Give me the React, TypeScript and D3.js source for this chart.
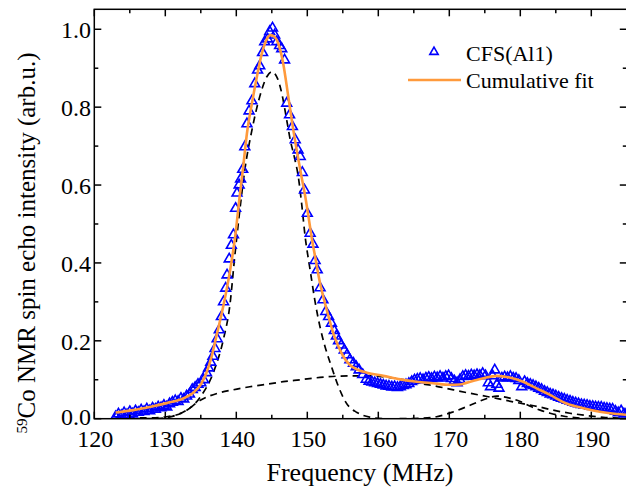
import React from "react";
import * as d3 from "d3";

// ---- measured data (CFS(Al1)) ----
const dataFreq = [
  123.0, 123.4, 123.8, 124.2, 124.6, 125.0, 125.4, 125.8, 126.2, 126.6, 127.0, 127.4, 127.8, 128.2, 128.6, 129.0, 129.4, 129.8,
  130.2, 130.6, 131.0, 131.4, 131.8, 132.2, 132.6, 133.0, 133.4, 133.8, 134.2, 134.6, 135.0, 135.4, 135.8, 136.1, 136.4, 136.7,
  137.0, 137.3, 137.6, 137.9, 138.2, 138.5, 138.7, 139.0, 139.3, 139.6, 139.9, 140.1, 140.4, 140.6, 140.9, 141.2, 141.5, 141.8,
  142.2, 142.6, 143.0, 143.3, 143.7, 144.0, 144.4, 144.7, 145.1, 145.4, 145.7, 146.1, 146.4, 146.8, 147.1, 147.5, 147.9, 148.3,
  148.7, 149.0, 149.3, 149.6, 150.0, 150.4, 150.8, 151.1, 151.4, 151.8, 152.2, 152.6, 153.0, 153.4, 153.8, 154.1, 154.4, 154.8,
  155.2, 155.6, 156.0, 156.5, 156.9, 157.3, 157.8, 158.3, 158.7, 159.1, 159.5, 159.9, 160.3, 160.7, 161.1, 161.5, 161.9, 162.3,
  162.7, 163.1, 163.5, 163.9, 164.3, 164.7, 165.1, 165.5, 165.9, 166.3, 166.7, 167.1, 167.5, 167.9, 168.3, 168.7, 169.1, 169.5,
  169.9, 170.3, 170.7, 171.1, 171.5, 171.9, 172.3, 172.7, 173.1, 173.5, 173.9, 174.3, 174.7, 175.1, 175.5, 175.8, 176.1, 176.4,
  176.7, 177.0, 177.4, 177.8, 178.2, 178.6, 179.0, 179.4, 179.8, 180.2, 180.6, 181.0, 181.4, 181.8, 182.2, 182.6, 183.0, 183.4,
  183.8, 184.2, 184.6, 185.0, 185.4, 185.8, 186.2, 186.6, 187.0, 187.4, 187.8, 188.2, 188.6, 189.0, 189.4, 189.8, 190.2, 190.6,
  191.0, 191.4, 191.8, 192.2, 192.6, 193.0, 193.4, 193.8, 194.2, 194.6, 195.0,
];
const dataIntensity = [
  0.005, 0.012, 0.008, 0.015, 0.010, 0.018, 0.012, 0.020, 0.016, 0.022, 0.018, 0.025, 0.020, 0.027, 0.024, 0.030, 0.028, 0.034,
  0.030, 0.038, 0.042, 0.046, 0.044, 0.052, 0.050, 0.058, 0.063, 0.075, 0.080, 0.088, 0.092, 0.100, 0.118, 0.130, 0.145, 0.160,
  0.180, 0.205, 0.228, 0.262, 0.300, 0.335, 0.369, 0.410, 0.445, 0.472, 0.540, 0.579, 0.600, 0.615, 0.640, 0.698, 0.757, 0.790,
  0.816, 0.860, 0.895, 0.906, 0.940, 0.968, 0.975, 0.994, 1.003, 0.985, 0.968, 0.958, 0.950, 0.921, 0.810, 0.780, 0.750, 0.716,
  0.690, 0.673, 0.632, 0.587, 0.527, 0.476, 0.448, 0.406, 0.382, 0.336, 0.305, 0.275, 0.262, 0.245, 0.226, 0.212, 0.200, 0.189,
  0.176, 0.164, 0.151, 0.142, 0.133, 0.125, 0.113, 0.101, 0.096, 0.094, 0.092, 0.090, 0.088, 0.086, 0.084, 0.083, 0.081, 0.082,
  0.080, 0.082, 0.085, 0.087, 0.090, 0.095, 0.099, 0.101, 0.103, 0.100, 0.104, 0.106, 0.103, 0.107, 0.105, 0.108, 0.104, 0.108,
  0.110, 0.103, 0.097, 0.092, 0.100, 0.108, 0.111, 0.109, 0.112, 0.110, 0.113, 0.111, 0.116, 0.110, 0.092, 0.082, 0.110, 0.125,
  0.088, 0.078, 0.104, 0.107, 0.105, 0.108, 0.104, 0.103, 0.098, 0.082, 0.095, 0.090, 0.088, 0.085, 0.082, 0.078, 0.075, 0.070,
  0.067, 0.063, 0.061, 0.058, 0.055, 0.052, 0.050, 0.047, 0.045, 0.042, 0.040, 0.038, 0.036, 0.035, 0.034, 0.032, 0.031, 0.030,
  0.029, 0.029, 0.027, 0.026, 0.025, 0.024, 0.019, 0.015, 0.020, 0.012, 0.015,
];

// ---- cumulative fit (orange) ----
const fitFreq = [
  123.0, 125.5, 127.8, 130.2, 132.5, 133.9, 135.0, 135.8, 136.5, 137.2, 138.2, 139.1, 139.8, 140.5, 140.9, 141.5, 142.2, 142.9,
  143.6, 144.3, 144.8, 145.2, 145.9, 146.6, 147.3, 148.0, 148.7, 149.2, 149.7, 150.1, 150.6, 151.1, 151.8, 152.3, 153.0, 153.8,
  154.4, 155.1, 156.0, 157.2, 158.4, 160.7, 163.1, 165.4, 167.7, 170.1, 171.5, 172.4, 174.8, 176.7, 178.5, 180.4, 182.3, 184.2,
  186.5, 188.9, 191.2, 193.6, 195.0,
];
const fitIntensity = [
  0.016, 0.022, 0.030, 0.040, 0.052, 0.066, 0.088, 0.118, 0.158, 0.212, 0.292, 0.378, 0.462, 0.575, 0.635, 0.733, 0.810, 0.878,
  0.938, 0.975, 0.985, 0.983, 0.964, 0.913, 0.830, 0.745, 0.670, 0.620, 0.572, 0.527, 0.467, 0.416, 0.348, 0.310, 0.262, 0.212,
  0.185, 0.159, 0.138, 0.125, 0.118, 0.110, 0.101, 0.095, 0.091, 0.087, 0.088, 0.092, 0.104, 0.110, 0.106, 0.095, 0.078, 0.061,
  0.039, 0.027, 0.018, 0.012, 0.010,
];

// ---- fit components (black dashed) ----
const peak1Freq = [
  123.0, 128.0, 130.2, 132.5, 134.9, 136.8, 138.2, 139.1, 139.8, 140.5, 141.2, 142.2, 143.3, 144.3, 145.0, 145.8, 146.4, 147.1,
  147.6, 148.2, 148.7, 149.2, 149.7, 150.4, 151.1, 151.8, 152.5, 153.4, 154.4, 155.5, 157.0, 158.8, 161.0,
];
const peak1Intensity = [
  0.002, 0.002, 0.005, 0.016, 0.055, 0.120, 0.205, 0.292, 0.420, 0.536, 0.639, 0.741, 0.827, 0.878, 0.891, 0.874, 0.836, 0.767,
  0.716, 0.670, 0.625, 0.553, 0.467, 0.382, 0.300, 0.235, 0.185, 0.134, 0.082, 0.040, 0.016, 0.004, 0.000,
];
const peak2Freq = [
  127.0, 129.0, 131.0, 133.0, 135.0, 137.3, 139.5, 141.9, 144.5, 146.6, 149.0, 151.8, 154.0, 156.0, 158.4, 160.5, 163.1, 165.9,
  167.7, 170.6, 173.0, 175.3, 178.0, 180.5, 182.5, 184.6, 187.0, 189.4, 192.0, 195.0,
];
const peak2Intensity = [
  0.000, 0.001, 0.006, 0.022, 0.048, 0.065, 0.074, 0.082, 0.089, 0.095, 0.100, 0.106, 0.109, 0.110, 0.110, 0.108, 0.102, 0.090,
  0.085, 0.074, 0.065, 0.057, 0.047, 0.038, 0.031, 0.022, 0.014, 0.008, 0.003, 0.001,
];
const peak3Freq = [
  163.0, 166.0, 168.2, 170.6, 173.0, 175.3, 176.7, 178.5, 180.0, 181.4, 182.8, 184.2, 186.0, 188.0, 190.0, 193.0, 195.0,
];
const peak3Intensity = [
  0.000, 0.001, 0.005, 0.018, 0.035, 0.052, 0.058, 0.053, 0.044, 0.032, 0.022, 0.014, 0.007, 0.002, 0.000, 0.000, 0.000,
];

const xTicks = [120, 130, 140, 150, 160, 170, 180, 190];
const yTicks = [0.0, 0.2, 0.4, 0.6, 0.8, 1.0];
const legendLabels = ["CFS(Al1)", "Cumulative fit"];

const W = 626;
const H = 487;
const M = { left: 94.3, top: 9.3, right: 626.8, bottom: 418.7 };
const FONT = "'Liberation Serif', 'Times New Roman', serif";
const ORANGE = "#FF9A3C";
const BLUE = "#0000FF";

export default function App() {
  const x = d3.scaleLinear().domain([120, 195]).range([M.left, M.right]);
  const y = d3.scaleLinear().domain([0, 1.0513]).range([M.bottom, M.top]);

  const line = (fx: number[], fy: number[]) =>
    d3
      .line<number>()
      .x((_, i) => x(fx[i]))
      .y((_, i) => y(fy[i]))
      .curve(d3.curveMonotoneX)(fy) || "";

  const tri = d3.symbol().type(d3.symbolTriangle).size(42)() || "";
  const triLegend = d3.symbol().type(d3.symbolTriangle).size(30)() || "";

  const xMinor = d3.range(120, 196, 5);
  const yMinor = d3.range(0, 1.05, 0.1);

  const majorLen = 7;
  const minorLen = 4;

  return (
    <svg
      width={W}
      height={H}
      style={{ position: "absolute", left: 0, top: 0, background: "#fff" }}
      fontFamily={FONT}
    >
      <defs>
        <clipPath id="plotClip">
          <rect x={M.left} y={M.top} width={M.right - M.left} height={M.bottom - M.top} />
        </clipPath>
      </defs>

      <g clipPath="url(#plotClip)">
        {[
          [peak1Freq, peak1Intensity],
          [peak2Freq, peak2Intensity],
          [peak3Freq, peak3Intensity],
        ].map(([fx, fy], i) => (
          <path
            key={i}
            d={line(fx, fy)}
            fill="none"
            stroke="#000"
            strokeWidth={1.7}
            strokeDasharray="7,5"
          />
        ))}
        {dataFreq.map((f, i) => (
          <path
            key={i}
            d={tri}
            transform={`translate(${x(f)},${y(dataIntensity[i])})`}
            fill="none"
            stroke={BLUE}
            strokeWidth={1.6}
          />
        ))}
        <path d={line(fitFreq, fitIntensity)} fill="none" stroke={ORANGE} strokeWidth={2.6} />
      </g>

      {/* frame */}
      <rect
        x={M.left}
        y={M.top}
        width={M.right - M.left}
        height={M.bottom - M.top}
        fill="none"
        stroke="#000"
        strokeWidth={1.5}
      />

      {/* ticks */}
      {xMinor.map((v) => {
        const major = v % 10 === 0;
        const len = major ? majorLen : minorLen;
        return (
          <g key={"xt" + v}>
            <line x1={x(v)} x2={x(v)} y1={M.bottom} y2={M.bottom - len} stroke="#000" strokeWidth={1.5} />
            <line x1={x(v)} x2={x(v)} y1={M.top} y2={M.top + len} stroke="#000" strokeWidth={1.5} />
          </g>
        );
      })}
      {yMinor.map((v, i) => {
        const major = i % 2 === 0;
        const len = major ? majorLen : minorLen;
        return (
          <g key={"yt" + i}>
            <line x1={M.left} x2={M.left + len} y1={y(v)} y2={y(v)} stroke="#000" strokeWidth={1.5} />
            <line x1={M.right} x2={M.right - len} y1={y(v)} y2={y(v)} stroke="#000" strokeWidth={1.5} />
          </g>
        );
      })}

      {xTicks.map((v) => (
        <text key={"xl" + v} x={x(v) + 1} y={447} textAnchor="middle" fontSize={24} fill="#000">
          {v}
        </text>
      ))}
      {yTicks.map((v) => (
        <text
          key={"yl" + v}
          x={91}
          y={y(v) + (v === 0 ? 6.5 : 9)}
          textAnchor="end"
          fontSize={24}
          fill="#000"
        >
          {v.toFixed(1)}
        </text>
      ))}

      <text x={360} y={481} textAnchor="middle" fontSize={26} fill="#000">
        Frequency (MHz)
      </text>
      <text
        transform={`translate(35,${243}) rotate(-90)`}
        textAnchor="middle"
        fontSize={25}
        fill="#000"
      >
        <tspan fontSize={15} dy={-8}>59</tspan>
        <tspan dy={8}>Co NMR spin echo intensity (arb.u.)</tspan>
      </text>

      {/* legend */}
      <path d={triLegend} transform={`translate(434,52)`} fill="none" stroke={BLUE} strokeWidth={1.6} />
      <text x={466} y={61} fontSize={22} fill="#000">
        {legendLabels[0]}
      </text>
      <line x1={408} x2={461} y1={80} y2={80} stroke={ORANGE} strokeWidth={2.6} />
      <text x={466} y={88} fontSize={22} fill="#000">
        {legendLabels[1]}
      </text>
    </svg>
  );
}
